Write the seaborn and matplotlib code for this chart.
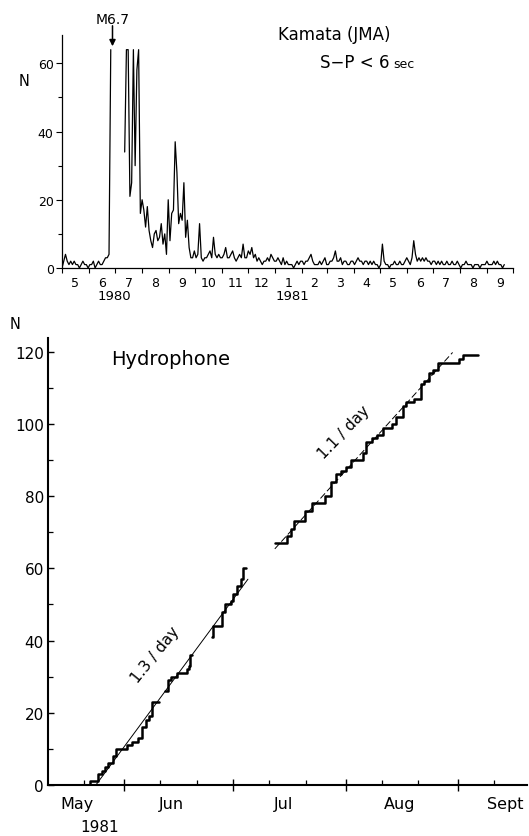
import numpy as np
import pandas as pd
import matplotlib
matplotlib.use("Agg")
import matplotlib.pyplot as plt
import matplotlib.transforms as mtransforms
import seaborn as sns

# ---------------- data ----------------
# Top panel: Kamata (JMA) number of events (S-P < 6 s), 2-day bins from 1980-05-01
top_start = "1980-05-01"
top_end = "1981-10-01"
top_bin_days = 2
top_counts = [
    0, 2, 4, 2, 1, 2, 1, 2, 1, 1, 0, 1, 2, 1, 1, 0, 1, 1, 2, 0,
    1, 2, 1, 1, 2, 3, 3, 4,
    64,
    np.nan, np.nan, np.nan, np.nan, np.nan, np.nan, np.nan,
    34, 64, 64, 21, 25, 64, 30, 58, 64, 16,
    20, 17, 12, 18, 11, 8, 6, 10, 11, 8,
    9, 13, 7, 10, 4, 20, 8, 16, 17, 37,
    28, 13, 16, 14, 25, 9, 14, 6, 3, 3,
    5, 3, 4, 13, 3, 2, 3, 3, 4, 5,
    3, 9, 4, 3, 4, 3, 3, 4, 6, 3,
    3, 4, 5, 3, 2, 3, 4, 3, 7, 3,
    3, 5, 4, 6, 3, 4, 2, 3, 2, 1,
    2, 2, 3, 2, 4, 3, 2, 2, 3, 2,
    1, 3, 1, 2, 1, 1, 1, 0, 1, 2,
    1, 2, 2, 1, 2, 2, 3, 4, 2, 1,
    1, 1, 2, 1, 2, 3, 1, 1, 2, 2,
    3, 5, 2, 2, 3, 1, 2, 2, 1,
    1, 2, 2, 1, 2, 3, 2, 2, 1, 2,
    2, 1, 2, 1, 2, 1, 1, 0, 1, 7,
    2, 1, 1, 0, 1, 1, 2, 1, 1, 2,
    1, 1, 2, 3, 2, 1, 3, 8, 4, 2,
    3, 2, 3, 2, 3, 2, 2, 1, 2, 2,
    1, 2, 1, 2, 1, 1, 2, 1, 1, 2,
    1, 1, 2, 1, 0, 1, 1, 2, 1, 1,
    1, 0, 1, 1, 1, 0, 1, 1, 1, 2,
    1, 1, 1, 2, 1, 2, 1, 1, 0, 1,
]
top_month_labels = ["5", "6", "7", "8", "9", "10", "11", "12",
                    "1", "2", "3", "4", "5", "6", "7", "8", "9"]
top_yticks = [0, 20, 40, 60]
top_yminor = [10, 30, 50]
quake_date = "1980-06-28"
quake_label = "M6.7"

# Bottom panel: cumulative number of hydrophone events, days since 1981-05-11
bot_start = "1981-05-11"
seg_a_days = [11.6, 11.6, 13.9, 14.8, 15.7, 16.6, 18.0, 18.8, 21.8, 23.2, 24.9,
              26.0, 27.1, 27.9, 28.7, 30.5]
seg_a_n = [0, 1, 3, 4, 5, 6, 8, 10, 11, 12, 13, 16, 18, 19, 23, 23]
seg_b_days = [32.3, 33.2, 34.0, 35.5, 38.3, 38.8, 39.2, 39.7]
seg_b_n = [26, 29, 30, 31, 32, 33, 36, 36]
seg_c_days = [45.2, 45.6, 48.0, 48.9, 50.3, 51.1, 52.2, 53.3, 53.7, 54.7]
seg_c_n = [41, 44, 48, 50, 51, 53, 55, 57, 60, 60]
seg_d_days = [62.5, 65.9, 66.9, 67.8, 70.8, 72.8, 76.3, 77.9, 79.3, 80.7, 82.0,
              83.4, 86.7, 87.6, 89.4, 90.8, 92.2, 94.9, 95.9, 97.7, 98.6, 100.9,
              102.8, 103.7, 105.1, 106.0, 107.4, 113.3, 114.3, 118.4]
seg_d_n = [67, 69, 71, 73, 76, 78, 80, 84, 86, 87, 88, 90, 92, 95, 96, 97, 99,
           100, 102, 105, 106, 107, 111, 112, 114, 115, 117, 118, 119, 119]
fit1_days = [13.2, 55.1]
fit1_n = [0, 57]
fit1_label = "1.3 / day"
fit2_days = [62.5, 111.5]
fit2_n = [65.4, 119.8]
fit2_label = "1.1 / day"
bot_month_names = ["May", "Jun", "Jul", "Aug", "Sept"]
bot_month_label_dates = ["1981-05-19", "1981-06-14", "1981-07-15",
                         "1981-08-16", "1981-09-14"]
bot_end = "1981-09-20"
bot_yticks = [0, 20, 40, 60, 80, 100, 120]
bot_yminor = [10, 30, 50, 70, 90, 110]

# ---------------- style ----------------
sns.set_style("ticks")
plt.rcParams["font.family"] = ["DejaVu Sans"]
plt.rcParams["axes.linewidth"] = 0.9
for key in ("text.color", "axes.labelcolor", "axes.edgecolor",
            "xtick.color", "ytick.color", "xtick.labelcolor", "ytick.labelcolor"):
    plt.rcParams[key] = "black"

W, H = 529, 837
fig = plt.figure(figsize=(W / 100, H / 100), dpi=100)


def fx(px):
    return px / W


def fy(py):
    return 1 - py / H


# ---------------- top panel ----------------
ax1 = fig.add_axes([fx(62), fy(269), fx(513) - fx(62), fy(36) - fy(269)])
t0 = pd.Timestamp(top_start)
counts = np.array(top_counts, dtype=float)
top_df = pd.DataFrame({
    "day": np.arange(len(counts)) * top_bin_days,
    "n": counts,
    "seg": np.cumsum(np.isnan(counts)),
}).dropna()
sns.lineplot(data=top_df, x="day", y="n", units="seg", estimator=None,
             sort=False, color="black", lw=0.9, ax=ax1, legend=False)

t_end = (pd.Timestamp(top_end) - t0).days
ax1.set_xlim(0, t_end)
ax1.set_ylim(0, 68.3)
month_starts = pd.date_range(top_start, top_end, freq="MS")
bounds = [(d - t0).days for d in month_starts]
mids = [(a + b) / 2 for a, b in zip(bounds[:-1], bounds[1:])]
ax1.set_xticks(bounds)
ax1.set_xticklabels([])
ax1.set_xticks(mids, minor=True)
ax1.set_xticklabels(top_month_labels, minor=True)
ax1.tick_params(axis="x", which="major", direction="out", length=3.5, width=0.8)
ax1.tick_params(axis="x", which="minor", length=0, pad=5.5, labelsize=9)
ax1.set_yticks(top_yticks)
ax1.set_yticks(top_yminor, minor=True)
ax1.tick_params(axis="y", which="major", direction="out", length=4.5, width=0.8,
                pad=1.5, labelsize=9)
ax1.tick_params(axis="y", which="minor", direction="out", length=3, width=0.8)
ax1.set_xlabel("")
ax1.set_ylabel("")
sns.despine(ax=ax1)

qd = (pd.Timestamp(quake_date) - t0).days
ax1.annotate("", xy=(qd, 65.0), xytext=(qd, 71.0),
             arrowprops=dict(arrowstyle="-|>", color="black", lw=1.1,
                             mutation_scale=9, shrinkA=0, shrinkB=0),
             annotation_clip=False)
fig.text(fx(113), fy(20), quake_label, ha="center", va="center", fontsize=10)
fig.text(fx(24), fy(82), "N", ha="center", va="center", fontsize=10.5)
fig.text(fx(278), fy(35), "Kamata (JMA)", ha="left", va="center", fontsize=12)
fig.text(fx(320), fy(63), "S\u2212P < 6", ha="left", va="center", fontsize=12)
fig.text(fx(393), fy(64), "sec", ha="left", va="center", fontsize=9)
fig.text(fx(114), fy(297), "1980", ha="center", va="center", fontsize=9.5)
fig.text(fx(292), fy(297), "1981", ha="center", va="center", fontsize=9.5)

# ---------------- bottom panel ----------------
ax2 = fig.add_axes([fx(48), fy(786), fx(527) - fx(48), fy(339) - fy(786)])
b0 = pd.Timestamp(bot_start)
segs = [(seg_a_days, seg_a_n), (seg_b_days, seg_b_n),
        (seg_c_days, seg_c_n), (seg_d_days, seg_d_n)]
bot_df = pd.concat([
    pd.DataFrame({"day": d, "n": n, "seg": k}) for k, (d, n) in enumerate(segs)
], ignore_index=True)
sns.lineplot(data=bot_df, x="day", y="n", units="seg", estimator=None,
             sort=False, drawstyle="steps-post", color="black", lw=1.8,
             ax=ax2, legend=False)
sns.lineplot(x=fit1_days, y=fit1_n, color="black", lw=0.7, ax=ax2)
sns.lineplot(x=fit2_days, y=fit2_n, color="black", lw=0.7,
             linestyle=(0, (7, 3)), ax=ax2)

b_end = (pd.Timestamp(bot_end) - b0).days
ax2.set_xlim(0, b_end)
ax2.set_ylim(0, 123.8)
bm = pd.date_range("1981-06-01", "1981-09-01", freq="MS")
ax2.set_xticks([(d - b0).days for d in bm])
ax2.set_xticklabels([])
minor_dates = [d for d in pd.date_range("1981-05-11", bot_end, freq="D")
               if d.day in (11, 21)]
ax2.set_xticks([(d - b0).days for d in minor_dates if (d - b0).days > 0],
               minor=True)
ax2.tick_params(axis="x", which="major", direction="inout", length=9, width=1.0)
ax2.tick_params(axis="x", which="minor", direction="in", length=3.5, width=0.9)
ax2.set_yticks(bot_yticks)
ax2.set_yticks(bot_yminor, minor=True)
ax2.tick_params(axis="y", which="major", direction="in", length=4, width=1.0,
                pad=3, labelsize=11)
ax2.tick_params(axis="y", which="minor", direction="in", length=3.5, width=0.9)
for s in ("left", "bottom"):
    ax2.spines[s].set_linewidth(1.5)
ax2.set_xlabel("")
ax2.set_ylabel("")
sns.despine(ax=ax2)

trans = mtransforms.blended_transform_factory(ax2.transData, fig.transFigure)
for name, dstr in zip(bot_month_names, bot_month_label_dates):
    ax2.text((pd.Timestamp(dstr) - b0).days, fy(805), name, transform=trans,
             ha="center", va="center", fontsize=11.5)
fig.text(fx(100), fy(828), "1981", ha="center", va="center", fontsize=11)
fig.text(fx(15), fy(325), "N", ha="center", va="center", fontsize=10.5)
ax2.text(33.7, 118.2, "Hydrophone", ha="center", va="center", fontsize=14)
ax2.text(29.6, 36.3, fit1_label, ha="center", va="center", fontsize=11,
         rotation=51, rotation_mode="anchor")
ax2.text(81.5, 98.0, fit2_label, ha="center", va="center", fontsize=11,
         rotation=46, rotation_mode="anchor")

fig.savefig("out.png", dpi=100)
